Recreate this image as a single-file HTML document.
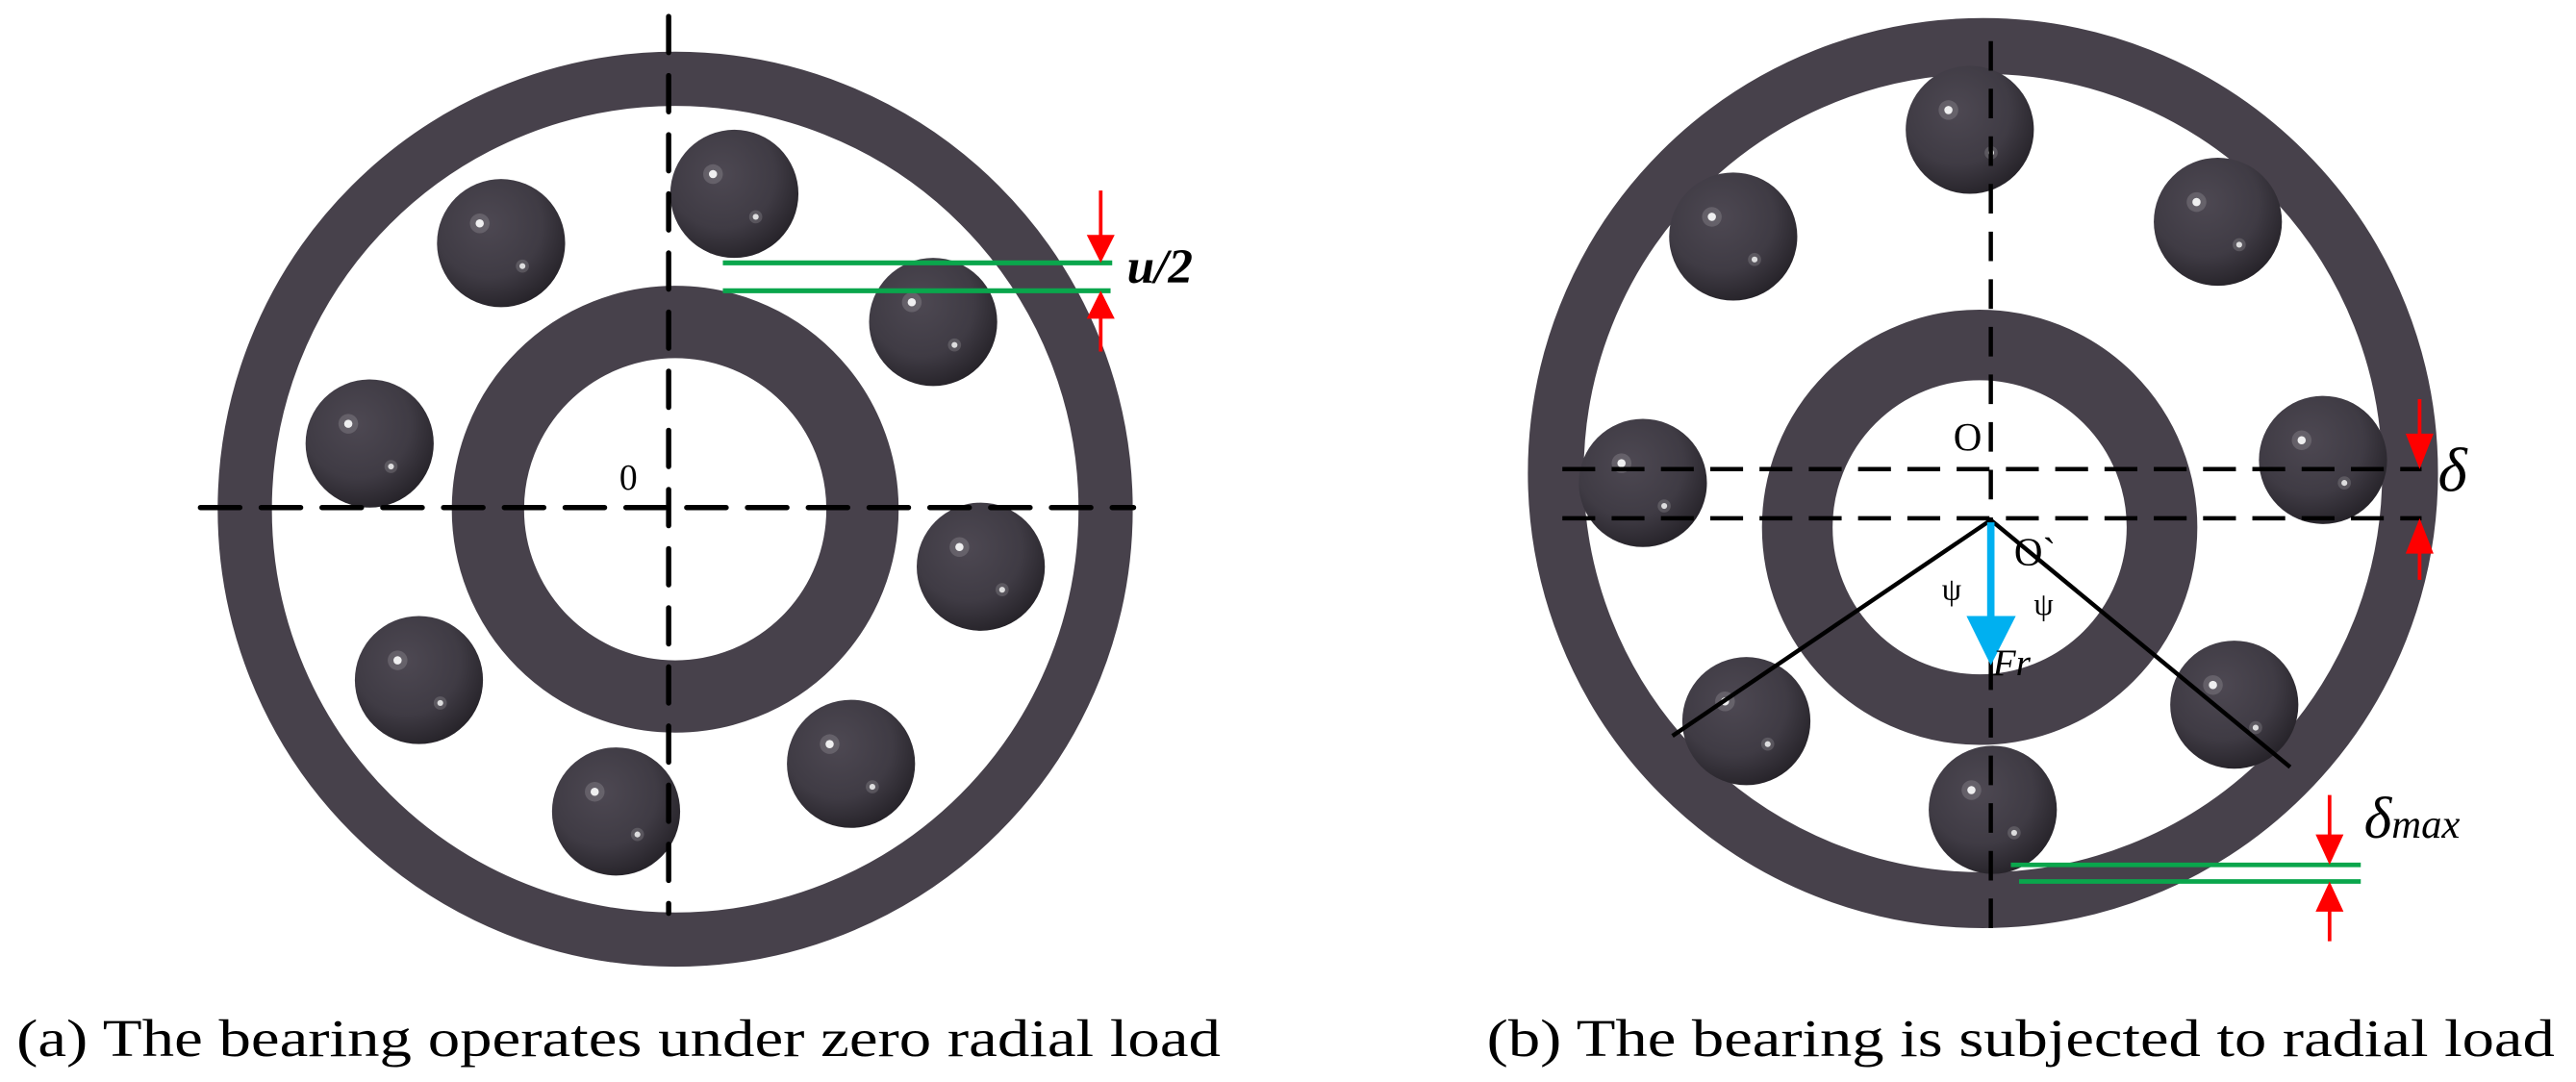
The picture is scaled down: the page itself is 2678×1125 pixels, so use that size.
<!DOCTYPE html>
<html><head><meta charset="utf-8"><style>html,body{margin:0;padding:0;background:#fff}svg{display:block}text{font-family:"Liberation Serif","Times New Roman",serif}</style></head>
<body>
<svg width="2678" height="1125" viewBox="0 0 1568 658.7" preserveAspectRatio="none" xmlns="http://www.w3.org/2000/svg">
<defs>
<radialGradient id="bg" cx="0.4" cy="0.35" r="0.7">
<stop offset="0" stop-color="#4d4852"/><stop offset="0.6" stop-color="#3f3b44"/><stop offset="1" stop-color="#242127"/>
</radialGradient>
<g id="ball">
<circle r="39" fill="url(#bg)"/>
<circle cx="-13" cy="-12" r="2.5" fill="#fff" opacity="0.9"/>
<circle cx="-13" cy="-12" r="6" fill="#fff" opacity="0.15"/>
<circle cx="13" cy="14" r="1.8" fill="#fff" opacity="0.8"/>
<circle cx="13" cy="14" r="4" fill="#fff" opacity="0.15"/>
</g>
</defs>
<rect width="1568" height="659" fill="#fff"/>
<!-- Left bearing -->
<circle cx="411" cy="310" r="262" fill="none" stroke="#47414b" stroke-width="33"/>
<circle cx="411" cy="310" r="114" fill="none" stroke="#47414b" stroke-width="44"/>
<use href="#ball" x="447" y="118"/>
<use href="#ball" x="305" y="148"/>
<use href="#ball" x="225" y="270"/>
<use href="#ball" x="568" y="196"/>
<use href="#ball" x="597" y="345"/>
<use href="#ball" x="255" y="414"/>
<use href="#ball" x="518" y="465"/>
<use href="#ball" x="375" y="494"/>
<line x1="122" y1="309" x2="690" y2="309" stroke="#000" stroke-width="3.2" stroke-dasharray="24 13" stroke-linecap="round"/>
<line x1="407" y1="10" x2="407" y2="556" stroke="#000" stroke-width="3.2" stroke-dasharray="22 14" stroke-linecap="round"/>
<text x="377" y="298" font-size="22">0</text>
<line x1="440" y1="160" x2="677" y2="160" stroke="#0aa64c" stroke-width="3"/>
<line x1="440" y1="177" x2="676" y2="177" stroke="#0aa64c" stroke-width="3"/>
<line x1="670" y1="116" x2="670" y2="145" stroke="#f00" stroke-width="2.2"/>
<polygon points="661.5,143 678.5,143 670,160" fill="#f00"/>
<line x1="670" y1="192" x2="670" y2="214" stroke="#f00" stroke-width="2.2"/>
<polygon points="661.5,194 678.5,194 670,177" fill="#f00"/>
<text x="686" y="172" font-size="30" font-weight="bold" font-style="italic">u/2</text>
<!-- Right bearing -->
<circle cx="1207" cy="288" r="260" fill="none" stroke="#47414b" stroke-width="34"/>
<circle cx="1205" cy="321" r="111" fill="none" stroke="#47414b" stroke-width="43"/>
<use href="#ball" x="1199" y="79"/>
<use href="#ball" x="1055" y="144"/>
<use href="#ball" x="1350" y="135"/>
<use href="#ball" x="1000" y="294"/>
<use href="#ball" x="1414" y="280"/>
<use href="#ball" x="1063" y="439"/>
<use href="#ball" x="1360" y="429"/>
<use href="#ball" x="1213" y="493"/>
<line x1="951" y1="285.6" x2="1474" y2="285.6" stroke="#000" stroke-width="2.6" stroke-dasharray="20 10"/>
<line x1="951" y1="315.5" x2="1474" y2="315.5" stroke="#000" stroke-width="2.6" stroke-dasharray="20 10"/>
<line x1="1211.8" y1="25" x2="1211.8" y2="565" stroke="#000" stroke-width="2.6" stroke-dasharray="18 11"/>
<polyline points="1018,448 1211.8,316.6 1394,467" fill="none" stroke="#000" stroke-width="2.6"/>
<line x1="1211.8" y1="318" x2="1211.8" y2="378" stroke="#00b0f0" stroke-width="4.5"/>
<polygon points="1197,375 1227,375 1211.8,405" fill="#00b0f0"/>
<text x="1189" y="274" font-size="24">O</text>
<text x="1226" y="344" font-size="24">O`</text>
<text x="1182" y="365" font-size="19">ψ</text>
<text x="1238" y="374" font-size="19">ψ</text>
<text x="1213" y="411" font-size="23" font-style="italic">Fr</text>
<line x1="1472.8" y1="243" x2="1472.8" y2="266" stroke="#f00" stroke-width="2.2"/>
<polygon points="1464.3,264 1481.3,264 1472.8,285.6" fill="#f00"/>
<line x1="1472.8" y1="334" x2="1472.8" y2="353" stroke="#f00" stroke-width="2.2"/>
<polygon points="1464.3,337 1481.3,337 1472.8,315.5" fill="#f00"/>
<text x="1484" y="299" font-size="38" font-style="italic">δ</text>
<line x1="1224" y1="526.5" x2="1437" y2="526.5" stroke="#0aa64c" stroke-width="2.8"/>
<line x1="1229" y1="536.6" x2="1437" y2="536.6" stroke="#0aa64c" stroke-width="2.8"/>
<line x1="1418" y1="484" x2="1418" y2="510" stroke="#f00" stroke-width="2.2"/>
<polygon points="1409.5,508 1426.5,508 1418,526.5" fill="#f00"/>
<line x1="1418" y1="553" x2="1418" y2="573" stroke="#f00" stroke-width="2.2"/>
<polygon points="1409.5,555 1426.5,555 1418,536.6" fill="#f00"/>
<text x="1439" y="510" font-size="36" font-style="italic">δ<tspan font-size="25">max</tspan></text>
<!-- captions -->
<text x="10" y="643" font-size="32" textLength="733" lengthAdjust="spacingAndGlyphs">(a)  The bearing operates under zero radial load</text>
<text x="905" y="643" font-size="32" textLength="650" lengthAdjust="spacingAndGlyphs">(b)  The bearing is subjected to radial load</text>
</svg>
</body></html>
